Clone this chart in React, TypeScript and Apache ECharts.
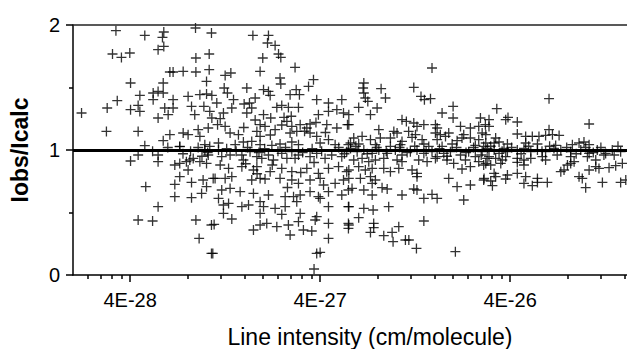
import React, { useEffect, useRef } from "react";
import * as echarts from "echarts";

// Each point: [log10(line intensity in cm/molecule), Iobs/Icalc]
const band1Above: [number, number][] = [
  [-27.473, 1.955], [-27.321, 1.917], [-27.221, 1.944], [-27.228, 1.901], [-27.251, 1.803], [-27.221, 1.829],
  [-27.054, 1.976], [-26.970, 1.936], [-27.491, 1.768], [-27.444, 1.741], [-27.400, 1.776], [-27.052, 1.736],
  [-26.982, 1.768], [-27.189, 1.624], [-27.172, 1.624], [-27.119, 1.629], [-27.052, 1.624], [-26.982, 1.643],
  [-26.996, 1.549], [-27.396, 1.536], [-27.224, 1.536], [-27.277, 1.456], [-27.251, 1.469], [-27.224, 1.456],
  [-27.347, 1.437], [-27.093, 1.429], [-27.031, 1.443], [-26.996, 1.448], [-27.466, 1.395], [-27.519, 1.336],
  [-27.654, 1.296], [-27.396, 1.323], [-27.356, 1.357], [-27.347, 1.309], [-27.277, 1.403], [-27.172, 1.403],
  [-27.216, 1.336], [-27.172, 1.336], [-27.075, 1.349], [-27.058, 1.283], [-27.010, 1.349], [-26.979, 1.309],
  [-27.251, 1.256], [-27.198, 1.283], [-27.523, 1.149], [-27.356, 1.149], [-27.189, 1.123], [-27.119, 1.136],
  [-27.093, 1.123], [-27.040, 1.163], [-26.987, 1.176], [-27.224, 1.075], [-27.321, 1.035], [-27.137, 1.029],
  [-27.005, 1.043], [-26.979, 1.029], [-27.031, 1.109],
];

const band1Below: [number, number][] = [
  [-27.137, 1.027], [-27.356, 0.96], [-27.251, 0.96], [-27.251, 0.907], [-27.396, 0.912], [-27.163, 0.88],
  [-27.137, 0.893], [-27.102, 0.907], [-27.084, 0.92], [-27.066, 0.933], [-27.031, 0.907], [-26.996, 0.893],
  [-26.987, 0.96], [-27.005, 1.0], [-27.093, 0.84], [-27.137, 0.787], [-27.075, 0.741], [-27.014, 0.76],
  [-26.996, 0.707], [-26.961, 0.773], [-27.316, 0.707], [-27.163, 0.725], [-27.163, 0.627], [-27.075, 0.619],
  [-27.022, 0.653], [-27.251, 0.547], [-27.356, 0.44], [-27.280, 0.432], [-27.052, 0.44], [-26.970, 0.40],
  [-27.035, 0.293], [-26.970, 0.173],
];

const band2Above: [number, number][] = [
  [-26.752, 1.917], [-26.670, 1.917], [-26.675, 1.856], [-26.635, 1.837], [-26.700, 1.736], [-26.617, 1.768],
  [-26.605, 1.741], [-26.530, 1.661], [-26.714, 1.629], [-26.898, 1.597], [-26.868, 1.616], [-26.609, 1.576],
  [-26.605, 1.528], [-26.433, 1.563], [-26.459, 1.509], [-26.903, 1.496], [-26.886, 1.456], [-26.968, 1.437],
  [-26.784, 1.496], [-26.696, 1.483], [-26.670, 1.469], [-26.661, 1.437], [-26.740, 1.416], [-26.556, 1.443],
  [-26.524, 1.483], [-26.507, 1.443], [-26.416, 1.403], [-26.354, 1.376], [-26.284, 1.403], [-26.854, 1.403],
  [-26.942, 1.376], [-26.798, 1.368], [-26.770, 1.376], [-26.758, 1.336], [-26.863, 1.336], [-26.907, 1.296],
  [-26.784, 1.296], [-26.626, 1.341], [-26.600, 1.357], [-26.565, 1.341], [-26.512, 1.341], [-26.696, 1.283],
  [-26.658, 1.256], [-26.588, 1.261], [-26.354, 1.309], [-26.310, 1.323], [-26.275, 1.296], [-26.407, 1.283],
  [-26.968, 1.256], [-26.924, 1.251], [-26.938, 1.203], [-26.898, 1.189], [-26.714, 1.203], [-26.688, 1.189],
  [-26.573, 1.229], [-26.547, 1.189], [-26.503, 1.203], [-26.468, 1.176], [-26.451, 1.208], [-26.363, 1.203],
  [-26.310, 1.176], [-26.254, 1.203], [-26.872, 1.136], [-26.828, 1.123], [-26.731, 1.149], [-26.714, 1.109],
  [-26.556, 1.136], [-26.521, 1.149], [-26.451, 1.136], [-26.416, 1.109], [-26.635, 1.163], [-26.933, 1.056],
  [-26.845, 1.043], [-26.802, 1.064], [-26.758, 1.069], [-26.714, 1.043], [-26.652, 1.037], [-26.609, 1.048],
  [-26.547, 1.064], [-26.512, 1.043], [-26.398, 1.056], [-26.354, 1.083], [-26.319, 1.043], [-26.249, 1.043],
];

const band2Below: [number, number][] = [
  [-26.933, 1.0], [-26.916, 0.947], [-26.872, 0.96], [-26.810, 0.96], [-26.802, 0.92], [-26.767, 0.987],
  [-26.731, 0.947], [-26.705, 0.933], [-26.670, 0.96], [-26.644, 0.92], [-26.600, 0.973], [-26.573, 0.933],
  [-26.547, 0.987], [-26.530, 0.933], [-26.512, 0.96], [-26.451, 0.947], [-26.416, 0.973], [-26.372, 0.933],
  [-26.337, 0.96], [-26.284, 0.947], [-26.258, 0.987], [-26.924, 0.88], [-26.880, 0.853], [-26.810, 0.867],
  [-26.749, 0.84], [-26.731, 0.867], [-26.661, 0.827], [-26.600, 0.853], [-26.547, 0.827], [-26.468, 0.853],
  [-26.407, 0.813], [-26.354, 0.853], [-26.301, 0.867], [-26.258, 0.827], [-26.951, 0.773], [-26.898, 0.773],
  [-26.863, 0.787], [-26.758, 0.76], [-26.714, 0.773], [-26.688, 0.768], [-26.609, 0.773], [-26.547, 0.76],
  [-26.512, 0.733], [-26.451, 0.76], [-26.398, 0.773], [-26.319, 0.733], [-26.275, 0.76], [-26.916, 0.68],
  [-26.872, 0.693], [-26.819, 0.667], [-26.749, 0.653], [-26.670, 0.64], [-26.582, 0.627], [-26.538, 0.627],
  [-26.503, 0.64], [-26.451, 0.667], [-26.407, 0.627], [-26.354, 0.667], [-26.284, 0.64], [-26.249, 0.68],
  [-26.933, 0.613], [-26.907, 0.56], [-26.880, 0.573], [-26.810, 0.547], [-26.775, 0.56], [-26.714, 0.587],
  [-26.696, 0.547], [-26.635, 0.533], [-26.582, 0.547], [-26.521, 0.587], [-26.398, 0.613], [-26.354, 0.547],
  [-26.249, 0.547], [-26.907, 0.493], [-26.863, 0.448], [-26.714, 0.493], [-26.600, 0.485], [-26.503, 0.493],
  [-26.416, 0.467], [-26.956, 0.405], [-26.749, 0.36], [-26.714, 0.40], [-26.679, 0.413], [-26.626, 0.387],
  [-26.565, 0.40], [-26.556, 0.32], [-26.512, 0.427], [-26.486, 0.36], [-26.442, 0.352], [-26.424, 0.44],
  [-26.354, 0.413], [-26.354, 0.293], [-26.249, 0.413], [-26.249, 0.373], [-26.963, 0.173], [-26.416, 0.173],
  [-26.398, 0.181], [-26.430, 0.048],
];

const band3Above: [number, number][] = [
  [-25.809, 1.656], [-26.168, 1.536], [-26.172, 1.496], [-26.168, 1.456], [-26.160, 1.416], [-26.147, 1.389],
  [-26.077, 1.491], [-26.054, 1.416], [-25.905, 1.501], [-25.867, 1.429], [-25.849, 1.403], [-25.817, 1.411],
  [-26.195, 1.341], [-26.098, 1.336], [-26.133, 1.283], [-26.247, 1.283], [-26.247, 1.203], [-25.698, 1.349],
  [-25.756, 1.296], [-25.698, 1.256], [-25.554, 1.256], [-25.967, 1.243], [-25.944, 1.229], [-25.905, 1.216],
  [-25.888, 1.189], [-25.852, 1.203], [-25.791, 1.203], [-25.782, 1.176], [-25.659, 1.189], [-25.607, 1.176],
  [-25.563, 1.189], [-25.528, 1.203], [-26.089, 1.163], [-26.010, 1.149], [-25.993, 1.136], [-25.932, 1.149],
  [-25.896, 1.123], [-25.791, 1.136], [-25.765, 1.123], [-25.721, 1.136], [-25.642, 1.123], [-25.545, 1.136],
  [-26.221, 1.096], [-26.177, 1.109], [-26.133, 1.083], [-26.081, 1.096], [-26.028, 1.096], [-25.967, 1.069],
  [-25.914, 1.101], [-25.861, 1.083], [-25.782, 1.083], [-25.738, 1.109], [-25.677, 1.075], [-25.651, 1.096],
  [-25.607, 1.096], [-25.563, 1.083], [-26.238, 1.056], [-26.195, 1.048], [-26.107, 1.043], [-26.028, 1.029],
  [-25.975, 1.043], [-25.852, 1.048], [-25.826, 1.029], [-25.756, 1.029], [-25.703, 1.048], [-25.581, 1.037],
  [-25.537, 1.029],
];

const band3Below: [number, number][] = [
  [-26.238, 1.013], [-26.203, 0.987], [-26.168, 1.0], [-26.124, 0.973], [-26.089, 1.0], [-26.045, 0.973],
  [-26.002, 1.0], [-25.967, 0.96], [-25.923, 0.987], [-25.888, 1.0], [-25.852, 0.973], [-25.809, 0.987],
  [-25.782, 0.947], [-25.747, 0.973], [-25.712, 0.987], [-25.659, 0.96], [-25.616, 0.987], [-25.581, 0.947],
  [-25.545, 0.987], [-25.519, 0.933], [-26.221, 0.92], [-26.177, 0.933], [-26.142, 0.907], [-26.107, 0.92],
  [-26.063, 0.933], [-25.993, 0.92], [-25.967, 0.907], [-25.879, 0.92], [-25.835, 0.907], [-25.791, 0.933],
  [-25.730, 0.92], [-25.695, 0.893], [-25.633, 0.92], [-25.607, 0.867], [-25.563, 0.907], [-25.537, 0.88],
  [-26.195, 0.867], [-26.160, 0.84], [-26.124, 0.853], [-26.063, 0.853], [-26.028, 0.827], [-25.984, 0.853],
  [-25.914, 0.84], [-25.888, 0.813], [-25.888, 0.787], [-26.247, 0.84], [-26.247, 0.773], [-26.186, 0.773],
  [-26.133, 0.787], [-26.107, 0.76], [-26.124, 0.733], [-25.651, 0.848], [-25.721, 0.773], [-25.677, 0.707],
  [-25.607, 0.72], [-25.537, 0.76], [-26.230, 0.693], [-26.168, 0.68], [-26.124, 0.64], [-26.072, 0.699],
  [-26.045, 0.688], [-25.967, 0.64], [-25.905, 0.688], [-25.888, 0.68], [-25.852, 0.613], [-25.809, 0.645],
  [-25.782, 0.613], [-25.642, 0.6], [-26.247, 0.547], [-26.168, 0.533], [-26.119, 0.52], [-26.037, 0.547],
  [-26.195, 0.459], [-26.116, 0.413], [-26.116, 0.379], [-26.247, 0.40], [-26.133, 0.341], [-26.063, 0.315],
  [-26.019, 0.341], [-26.014, 0.267], [-25.984, 0.387], [-25.949, 0.28], [-25.931, 0.28], [-25.852, 0.432],
  [-25.891, 0.213], [-25.686, 0.187],
];

const band4Above: [number, number][] = [
  [-25.193, 1.411], [-25.468, 1.331], [-25.509, 1.243], [-25.509, 1.189], [-25.409, 1.261], [-25.421, 1.243],
  [-25.360, 1.224], [-24.982, 1.208], [-25.193, 1.163], [-25.360, 1.128], [-25.316, 1.109], [-25.281, 1.109],
  [-25.246, 1.109], [-25.211, 1.117], [-25.175, 1.123], [-25.140, 1.117], [-25.526, 1.123], [-25.474, 1.096],
  [-25.482, 1.056], [-25.456, 1.064], [-25.412, 1.048], [-25.316, 1.056], [-25.254, 1.048], [-25.158, 1.037],
  [-25.070, 1.043], [-25.035, 1.056], [-25.009, 1.064], [-24.982, 1.043], [-25.526, 1.056],
];

const band4Below: [number, number][] = [
  [-25.517, 1.013], [-25.482, 1.0], [-25.456, 0.973], [-25.430, 1.013], [-25.412, 0.987], [-25.360, 1.0],
  [-25.325, 1.013], [-25.289, 0.987], [-25.254, 1.0], [-25.211, 0.987], [-25.167, 1.013], [-25.131, 1.0],
  [-25.079, 0.987], [-25.026, 1.0], [-24.982, 0.973], [-24.939, 1.0], [-24.895, 0.973], [-24.860, 1.0],
  [-24.816, 0.987], [-25.509, 0.947], [-25.474, 0.933], [-25.439, 0.92], [-25.421, 0.947], [-25.360, 0.933],
  [-25.325, 0.92], [-25.289, 0.933], [-25.228, 0.947], [-25.211, 0.92], [-25.079, 0.947], [-25.061, 0.907],
  [-24.991, 0.947], [-24.947, 0.92], [-24.904, 0.96], [-25.526, 0.893], [-25.500, 0.88], [-25.447, 0.893],
  [-25.360, 0.901], [-25.325, 0.88], [-25.096, 0.88], [-25.079, 0.893], [-25.114, 0.84], [-25.131, 0.827],
  [-24.982, 0.84], [-24.947, 0.867], [-24.930, 0.853], [-24.877, 0.859], [-24.842, 0.875], [-24.807, 0.893],
  [-25.482, 0.813], [-25.474, 0.787], [-25.412, 0.8], [-25.421, 0.768], [-25.360, 0.813], [-25.316, 0.787],
  [-25.254, 0.773], [-25.500, 0.752], [-25.491, 0.715], [-25.325, 0.733], [-25.281, 0.715], [-25.254, 0.741],
  [-25.202, 0.741], [-25.035, 0.787], [-25.018, 0.773], [-25.000, 0.699], [-24.912, 0.741], [-24.816, 0.741],
  [-24.789, 0.76], [-25.535, 0.773],
];

// Overlapping marks in the crowded core of the cloud
const denseCore: [number, number][] = [
  [-26.89, 1.01], [-26.84, 0.99], [-26.78, 1.02], [-26.72, 0.98], [-26.69, 1.01], [-26.62, 0.99],
  [-26.58, 1.02], [-26.49, 0.98], [-26.44, 1.01], [-26.39, 0.99], [-26.30, 1.02], [-26.27, 0.97],
  [-26.21, 1.03], [-26.15, 0.97], [-26.10, 1.02], [-26.05, 0.99], [-25.98, 1.02], [-25.94, 0.98],
  [-25.90, 1.03], [-25.84, 0.99], [-25.77, 1.01], [-25.73, 0.95], [-25.68, 1.02], [-25.63, 0.98],
  [-25.59, 1.02], [-25.55, 0.96], [-25.50, 1.03], [-25.44, 0.99], [-25.39, 1.02], [-25.34, 0.97],
  [-25.30, 1.03], [-25.23, 0.99], [-25.19, 1.03], [-25.15, 0.96], [-25.10, 1.02], [-25.05, 0.97],
  [-25.00, 1.02], [-24.96, 0.98], [-24.92, 1.02], [-24.85, 0.96], [-24.83, 1.03], [-27.08, 0.99],
  [-27.04, 1.02], [-27.02, 0.95], [-26.99, 0.98], [-27.12, 0.97], [-27.20, 1.02], [-27.28, 0.99],
  [-26.80, 1.18], [-26.74, 1.24], [-26.66, 1.12], [-26.60, 1.20], [-26.55, 1.27], [-26.48, 1.15],
  [-26.42, 1.22], [-26.37, 1.14], [-26.79, 0.89], [-26.73, 0.81], [-26.65, 0.88], [-26.57, 0.70],
  [-26.50, 0.82], [-26.43, 0.90], [-26.38, 0.72],
];

// Axis ticks (line intensity, cm/molecule)
const majorTickIntensities = [4e-28, 4e-27, 4e-26];
const tickLabels = ["4E-28", "4E-27", "4E-26"];
const minorTickIntensities = [
  2.4e-28, 2.8e-28, 3.2e-28, 3.6e-28,
  8e-28, 1.2e-27, 1.6e-27, 2.0e-27, 2.4e-27, 2.8e-27, 3.2e-27, 3.6e-27,
  8e-27, 1.2e-26, 1.6e-26, 2.0e-26, 2.4e-26, 2.8e-26, 3.2e-26, 3.6e-26,
  8e-26, 1.2e-25, 1.6e-25,
];
const intensityMin = 2e-28;
const intensityMax = 1.65e-25;
const ratioMin = 0;
const ratioMax = 2;
const referenceRatio = 1;

const FONT = "'Liberation Sans', Arial, Helvetica, sans-serif";

export default function App() {
  const ref = useRef<HTMLDivElement>(null);

  useEffect(() => {
    if (!ref.current) return;
    const chart = echarts.init(ref.current, undefined, { renderer: "svg" });
    const majorLogs = majorTickIntensities.map((v) => Math.log10(v));
    const minorLogs = minorTickIntensities.map((v) => Math.log10(v));
    const xMin = Math.log10(intensityMin);
    const xMax = Math.log10(intensityMax);
    const allPoints = [
      ...band1Above, ...band1Below, ...band2Above, ...band2Below,
      ...band3Above, ...band3Below, ...band4Above, ...band4Below, ...denseCore,
    ];
    const black = "#000";

    chart.setOption({
      animation: false,
      grid: { left: 73, right: 0, top: 25, bottom: 74, outerBoundsMode: "none" },
      xAxis: [
        {
          type: "value",
          min: xMin,
          max: xMax,
          position: "bottom",
          splitLine: { show: false },
          name: "Line intensity (cm/molecule)",
          nameLocation: "middle",
          nameGap: 50,
          nameTextStyle: { fontFamily: FONT, fontSize: 23, color: black, padding: [0, 0, 0, 40] },
          axisLine: { show: true, onZero: false, lineStyle: { color: black, width: 1.5 } },
          axisTick: { show: true, length: 7, customValues: majorLogs, lineStyle: { color: black, width: 1.5 } },
          axisLabel: {
            show: true,
            customValues: majorLogs,
            margin: 15,
            fontFamily: FONT,
            fontSize: 20,
            color: black,
            formatter: (v: number) => {
              const i = majorLogs.findIndex((m) => Math.abs(m - v) < 1e-6);
              return i >= 0 ? tickLabels[i] : "";
            },
          },
        },
        {
          type: "value",
          min: xMin,
          max: xMax,
          position: "bottom",
          splitLine: { show: false },
          axisLine: { show: false, onZero: false },
          axisTick: { show: true, length: 4, customValues: minorLogs, lineStyle: { color: black, width: 1.5 } },
          axisLabel: { show: false },
        },
      ],
      yAxis: {
        type: "value",
        min: ratioMin,
        max: ratioMax,
        interval: 1,
        position: "left",
        name: "Iobs/Icalc",
        nameLocation: "middle",
        nameGap: 42,
        nameRotate: 90,
        nameTextStyle: { fontFamily: FONT, fontSize: 23, fontWeight: "bold", color: black },
        splitLine: { show: false },
        axisLine: { show: true, onZero: false, lineStyle: { color: black, width: 1.5 } },
        axisTick: { show: true, length: 7, lineStyle: { color: black, width: 1.5 } },
        minorTick: { show: true, splitNumber: 2, length: 4, lineStyle: { color: black, width: 1.5 } },
        minorSplitLine: { show: false },
        axisLabel: { margin: 13, fontFamily: FONT, fontSize: 20, color: black },
      },
      series: [
        {
          type: "scatter",
          xAxisIndex: 0,
          yAxisIndex: 0,
          data: allPoints,
          symbol: "path://M5,0L5,10M0,5L10,5",
          symbolSize: 10,
          itemStyle: { color: "rgba(0,0,0,0)", borderColor: black, borderWidth: 1.3 },
          markLine: {
            silent: true,
            symbol: ["none", "none"],
            label: { show: false },
            data: [{ yAxis: referenceRatio, lineStyle: { color: black, width: 3, type: "solid" } }],
          },
        },
        {
          // top frame of the plot box
          type: "line",
          xAxisIndex: 0,
          yAxisIndex: 0,
          data: [[xMin, ratioMax], [xMax, ratioMax]],
          symbol: "none",
          silent: true,
          z: 10,
          clip: false,
          lineStyle: { color: "#222", width: 1.5 },
        },
      ],
    });
    return () => chart.dispose();
  }, []);

  return (
    <div
      ref={ref}
      style={{ position: "absolute", left: 0, top: 0, width: 627, height: 349, background: "#fff" }}
    />
  );
}
